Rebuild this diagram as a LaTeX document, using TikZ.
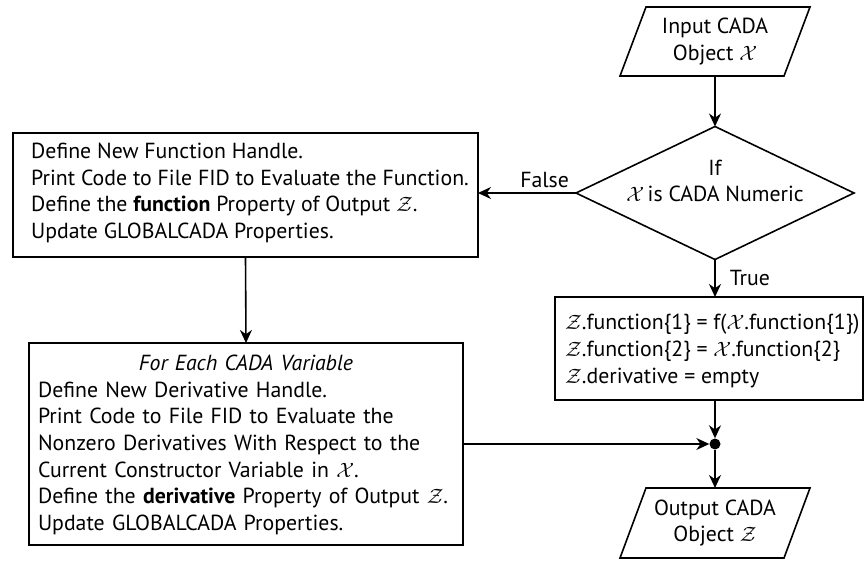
\documentclass[tikz,border=0pt]{standalone}
\usepackage{fontspec}
\setmainfont{PT Sans}
\usetikzlibrary{arrows.meta,calc}
\begin{document}
\begin{tikzpicture}[x=1pt,y=-1pt,
  every node/.append style={font=\fontsize{21.8}{26.7}\selectfont},
  ln/.style={line width=1.6pt},
  arr/.style={ln,-{Stealth[length=13pt,width=12pt]}},
  hold/.style={inner sep=0pt,outer sep=0pt},
  txt/.style={inner sep=0pt,align=left,anchor=west},
  boxn/.style={hold,draw,ln,rectangle}]
\useasboundingbox (0,0) rectangle (865,561);

% input parallelogram
\node[hold,minimum width=164pt,minimum height=69pt,align=center] (in) at (715,41.5) {Input CADA\\Object $\mathcal{X}$};
\draw[ln,line join=miter] ($(in.north west)+(13,0)$) -- ($(in.north east)+(13,0)$) -- ($(in.south east)+(-13,0)$) -- ($(in.south west)+(-13,0)$) -- cycle;

% decision diamond
\node[hold,minimum width=278pt,minimum height=133pt] (dec) at (715,193) {};
\draw[ln] (dec.north) -- (dec.east) -- (dec.south) -- (dec.west) -- cycle;
\node[hold,align=center] (dect) at (715,181) {If\\$\mathcal{X}$\,is CADA Numeric};

% box 1
\node[boxn,minimum width=465pt,minimum height=124pt] (box1) at (245.5,195) {};
\node[txt] (box1t) at (31,193) {Define New Function Handle.\\Print Code to File FID to Evaluate the Function.\\Define the \textbf{function} Property of Output $\mathcal{Z}$.\\Update GLOBALCADA Properties.};

% box 2
\node[boxn,minimum width=434pt,minimum height=202pt] (box2) at (246,444) {};
\node[inner sep=0pt,text width=416pt,anchor=center] (box2t) at (246,445) {\centering{\itshape For Each CADA Variable}\par
\raggedright Define New Derivative Handle.\\Print Code to File FID to Evaluate the\\Nonzero Derivatives With Respect to the\\Current Constructor Variable in $\mathcal{X}$.\\Define the \textbf{derivative} Property of Output $\mathcal{Z}$.\\Update GLOBALCADA Properties.\par};

% right box
\node[boxn,minimum width=308pt,minimum height=103pt] (rb) at (709,348.5) {};
\node[txt] (rbt) at (565,351) {$\mathcal{Z}$.function\{1\} = f($\mathcal{X}$.function\{1\})\\$\mathcal{Z}$.function\{2\} = $\mathcal{X}$.function\{2\}\\$\mathcal{Z}$.derivative = empty};

% junction
\node[circle,fill,inner sep=0pt,minimum size=11pt] (j) at (715,444) {};

% output parallelogram
\node[hold,minimum width=164pt,minimum height=70pt,align=center] (out) at (715,523) {Output CADA\\Object $\mathcal{Z}$};
\draw[ln,line join=miter] ($(out.north west)+(13,0)$) -- ($(out.north east)+(13,0)$) -- ($(out.south east)+(-13,0)$) -- ($(out.south west)+(-13,0)$) -- cycle;

% connectors
\draw[arr] (in.south) -- (dec.north);
\draw[arr] (dec.west) -- node[pos=0.32,above,inner sep=4pt] {False} (dec.west -| box1.east);
\draw[arr] (dec.south) -- node[right,inner sep=0pt,xshift=14pt] {True} (dec.south |- rb.north);
\draw[arr] (box1.south) -- (box2.north);
\draw[arr] (j |- rb.south) -- (j);
\draw[arr] (box2.east) -- (j);
\draw[arr] (j) -- (out.north);
\end{tikzpicture}
\end{document}
